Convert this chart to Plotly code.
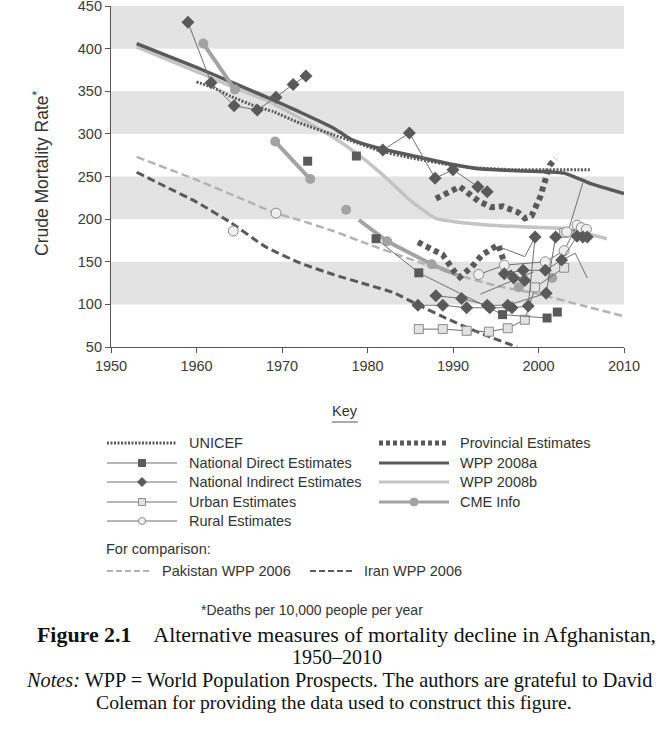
import plotly.graph_objects as go

# ---------------- data ----------------
unicef_years = [1960, 1962, 1964, 1967, 1969, 1972, 1976, 1978, 1981.5, 1985, 1990, 1993, 1997, 2006]
unicef_vals = [361, 354, 344, 332, 326, 313, 299, 292, 280, 272, 263, 260, 258, 258]

wpp2008a_years = [1953, 1960, 1964, 1968, 1972, 1976, 1978, 1981, 1985, 1990, 1993, 1997, 2003, 2006, 2010]
wpp2008a_vals = [406, 378, 361, 344, 326, 307, 294, 284, 275, 264, 259, 257, 254, 242, 230]

wpp2008b_years = [1953, 1961, 1964, 1968, 1972, 1976, 1979, 1982, 1985, 1988, 1992, 1998, 2003, 2008]
wpp2008b_vals = [402, 369, 356, 340, 319, 296, 275, 250, 222, 201, 195, 191, 189, 177]

pakistan_years = [1953, 1960, 1965, 1969, 1972, 1976, 1980, 1985, 1990, 1995, 2000, 2005, 2010]
pakistan_vals = [273, 246, 225, 208, 199, 186, 171, 153, 136, 122, 112, 99, 86]

iran_years = [1953, 1956, 1960, 1964, 1968, 1972, 1976, 1980, 1983, 1986, 1990, 1994, 1997.5]
iran_vals = [255, 240, 220, 196, 168, 149, 135, 123, 114, 99, 80, 63, 50]

cme_years = [1960.8, 1964.5, None, 1969.2, 1973.3, None, 1979, 1982.3, 1987.5, 1990.8]
cme_vals = [406, 352, None, 291, 247, None, 199, 174, 147, 133]
cme_point_years = [1960.8, 1964.5, 1969.2, 1973.3, 1977.5, 1982.3, 1987.5, 1997.7, 2001.6]
cme_point_vals = [406, 352, 291, 247, 211, 174, 147, 120, 131]

provincial_years = [1988, 1990.8, 1993, 1994.5, 1995.8, 1997.6, 1998.4, 1999.2, 2000.2, 2001.3, 2002, None,
                    1985.9, 1987.3, 1988.8, 1990.2, 1990.8, 1992.2, 1993.4, 1995.3, 1996, 1997]
provincial_vals = [224, 238, 221, 214, 215, 208, 201, 204, 226, 263, 271, None,
                   173, 166, 158, 138, 132, 144, 158, 170, 149, 131]

direct_years = [1973, None, 1978.7, None, 1981, 1986, 1995.8, 2001, None, 2002.2]
direct_vals = [268, None, 274, None, 177, 137, 88, 84, None, 91]

indirect_years = [1959, 1961.7, 1964.4, 1967.1, 1969.3, 1971.3, 1972.8, None,
                  1981.8, 1984.9, 1987.9, 1990, 1992.9, 1994, None,
                  1985.9, 1988.8, 1991.6, 1994.3, 1996.9, 1998.8, 1999.6, None,
                  1988, 1991, 1994, 1996.4, 2000.9, 2002, None,
                  1996, 1998.2, 2000.8, 2002.7, 2004.5, None,
                  1997.1, 1998.4, None,
                  2005.2, 2005.7]
indirect_vals = [431, 360, 333, 328, 343, 358, 368, None,
                 281, 301, 248, 258, 238, 232, None,
                 99, 99, 96, 96, 96, 98, 179, None,
                 110, 107, 99, 99, 113, 179, None,
                 136, 140, 140, 152, 180, None,
                 131, 128, None,
                 179, 179]

urban_years = [1986, 1988.8, 1991.6, 1994.2, 1996.4, 1998.4, 1999.6, 2003, None, 2003]
urban_vals = [71, 71, 69, 68, 72, 82, 120, 143, None, 184]

rural_years = [1964.3, None, 1969.3, None, 1993, 1996, 2000.8, 2003, 2004.5, None, 2003.3, 2005, 2005.6]
rural_vals = [186, None, 207, None, 135, 146, 150, 163, 193, None, 185, 190, 188]

other_years = [2005.2, 2003.5, None, 2002.7, 2004.3, 2005.7, None, 1993.2, 1999.4, None, 1995.8, 1998.4, 1999.6]
other_vals = [243, 187, None, 152, 160, 131, None, 112, 138, None, 166, 156, 179]

x_ticks = [1950, 1960, 1970, 1980, 1990, 2000, 2010]
y_ticks = [50, 100, 150, 200, 250, 300, 350, 400, 450]
bands = [(100, 150), (200, 250), (300, 350), (400, 450)]

# ---------------- styles ----------------
W, H = 663, 729
DARK = '#5a5a5a'
LIGHT = '#c4c4c4'
CME = '#a3a3a3'
PAK = '#b3b3b3'
THIN = '#707070'
SANS = 'Liberation Sans, Arial, sans-serif'
SERIF = 'Liberation Serif, Times New Roman, serif'
TXT = '#333333'


def X(px):
    return px / W


def Y(py):
    return 1 - py / H


fig = go.Figure()


def add(xs, ys, **kw):
    fig.add_trace(go.Scatter(x=xs, y=ys, hoverinfo='skip', connectgaps=False, **kw))


add(pakistan_years, pakistan_vals, mode='lines', line=dict(color=PAK, width=2.5, dash='8px,4px', shape='spline', smoothing=0.5))
add(iran_years, iran_vals, mode='lines', line=dict(color=DARK, width=3, dash='8px,4px', shape='spline', smoothing=0.5))
add(wpp2008b_years, wpp2008b_vals, mode='lines', line=dict(color=LIGHT, width=3.5, shape='spline', smoothing=0.5))
add(wpp2008a_years, wpp2008a_vals, mode='lines', line=dict(color=DARK, width=3.5, shape='spline', smoothing=0.5))
add(unicef_years, unicef_vals, mode='lines', line=dict(color=DARK, width=3, dash='2px,1.5px', shape='spline', smoothing=0.5))
add(cme_years, cme_vals, mode='lines', line=dict(color=CME, width=4))
add(cme_point_years, cme_point_vals, mode='markers', marker=dict(symbol='circle', size=10, color=CME))
add(provincial_years, provincial_vals, mode='lines', line=dict(color=DARK, width=6, dash='5px,4px'))
add(other_years, other_vals, mode='lines', line=dict(color=THIN, width=1))
add(urban_years, urban_vals, mode='lines+markers', line=dict(color=THIN, width=1),
    marker=dict(symbol='square', size=9, color='#e2e2e2', line=dict(color='#8a8a8a', width=1)))
add(rural_years, rural_vals, mode='lines+markers', line=dict(color=THIN, width=1),
    marker=dict(symbol='circle', size=10, color='#efefef', line=dict(color='#8a8a8a', width=1)))
add(direct_years, direct_vals, mode='lines+markers', line=dict(color=THIN, width=1),
    marker=dict(symbol='square', size=9, color=DARK))
add(indirect_years, indirect_vals, mode='lines+markers', line=dict(color=THIN, width=1),
    marker=dict(symbol='diamond', size=10, color=DARK))

# ---------------- legend key (paper-coordinate shapes) ----------------
shapes = [dict(type='rect', xref='x', yref='y', x0=1950, x1=2010, y0=a, y1=b, layer='below',
               fillcolor='#e3e3e3', line=dict(width=0)) for a, b in bands]


def hline(x0, x1, y, color, width, dash='solid'):
    shapes.append(dict(type='line', xref='paper', yref='paper', x0=X(x0), x1=X(x1), y0=Y(y), y1=Y(y),
                       line=dict(color=color, width=width, dash=dash)))


def square(cx, cy, s, fill, edge):
    shapes.append(dict(type='rect', xref='paper', yref='paper', x0=X(cx - s / 2), x1=X(cx + s / 2),
                       y0=Y(cy + s / 2), y1=Y(cy - s / 2), fillcolor=fill, line=dict(color=edge, width=1)))


def circle(cx, cy, s, fill, edge):
    shapes.append(dict(type='circle', xref='paper', yref='paper', x0=X(cx - s / 2), x1=X(cx + s / 2),
                       y0=Y(cy + s / 2), y1=Y(cy - s / 2), fillcolor=fill, line=dict(color=edge, width=1)))


def diamond(cx, cy, s, fill):
    r = s / 2
    path = 'M {:.5f},{:.5f} L {:.5f},{:.5f} L {:.5f},{:.5f} L {:.5f},{:.5f} Z'.format(
        X(cx - r), Y(cy), X(cx), Y(cy - r), X(cx + r), Y(cy), X(cx), Y(cy + r))
    shapes.append(dict(type='path', xref='paper', yref='paper', path=path, fillcolor=fill,
                       line=dict(color=fill, width=1)))


L0, L1, R0, R1 = 107, 177, 379, 449
rows = [443, 463, 482, 502, 521]
hline(L0, L1, rows[0], DARK, 3, '2px,1.5px')
hline(L0, L1, rows[1], THIN, 1)
square(142, rows[1], 7, DARK, DARK)
hline(L0, L1, rows[2], THIN, 1)
diamond(142, rows[2], 9, DARK)
hline(L0, L1, rows[3], THIN, 1)
square(142, rows[3], 7, '#e2e2e2', '#8a8a8a')
hline(L0, L1, rows[4], THIN, 1)
circle(142, rows[4], 7, '#efefef', '#8a8a8a')
hline(R0, R1, rows[0], DARK, 5, '4px,3px')
hline(R0, R1, rows[1], DARK, 3)
hline(R0, R1, rows[2], LIGHT, 3)
hline(R0, R1, rows[3], CME, 3)
circle(414, rows[3], 8, CME, CME)
hline(107, 152, 571, PAK, 2, '6px,3px')
hline(310, 353, 571, DARK, 2, '6px,3px')
hline(332, 358, 422, '#555555', 1)

annotations = []


def txt(x, y, s, size=14.5, anchor='left', family=SANS, color=TXT, angle=0):
    annotations.append(dict(x=X(x), y=Y(y), xref='paper', yref='paper', text=s, showarrow=False,
                            xanchor=anchor, yanchor='middle', textangle=angle, borderpad=0,
                            font=dict(family=family, size=size, color=color)))


txt(345, 411, 'Key', anchor='center')
left_labels = ['UNICEF', 'National Direct Estimates', 'National Indirect Estimates', 'Urban Estimates', 'Rural Estimates']
right_labels = ['Provincial Estimates', 'WPP 2008a', 'WPP 2008b', 'CME Info']
for r, s in zip(rows, left_labels):
    txt(188, r, s)
for r, s in zip(rows, right_labels):
    txt(459, r, s)
txt(105, 549, 'For comparison:')
txt(161, 571, 'Pakistan WPP 2006')
txt(363, 571, 'Iran WPP 2006')
txt(312, 610, '*Deaths per 10,000 people per year', size=14, anchor='center')
txt(41, 174, 'Crude Mortality Rate<sup>*</sup>', size=17.5, anchor='center', angle=-90)

NB = '\u00a0'
txt(346, 634, '<b>Figure 2.1</b>' + NB * 4 + 'Alternative measures of mortality decline in Afghanistan,',
    size=21.9, anchor='center', family=SERIF, color='#111111')
txt(337, 657, '1950\u20132010', size=20, anchor='center', family=SERIF, color='#111111')
txt(339, 680, '<i>Notes:</i> WPP = World Population Prospects. The authors are grateful to David',
    size=20.3, anchor='center', family=SERIF, color='#111111')
txt(334, 702, 'Coleman for providing the data used to construct this figure.',
    size=19.7, anchor='center', family=SERIF, color='#111111')

tickfont = dict(family=SANS, size=14.5, color='#3a3a3a')
fig.update_layout(
    width=W, height=H, margin=dict(l=0, r=0, t=0, b=0, autoexpand=False),
    plot_bgcolor='rgba(0,0,0,0)', paper_bgcolor='white', showlegend=False,
    xaxis=dict(domain=[111 / W, 624 / W], range=[1950, 2010], tickvals=x_ticks, ticks='outside',
               ticklen=5, tickcolor='#555555', showline=True, linecolor='#555555', linewidth=1.2,
               showgrid=False, zeroline=False, tickfont=tickfont, automargin=False, fixedrange=True,
               ticklabeloverflow='allow'),
    yaxis=dict(domain=[382 / H, 723 / H], range=[50, 450], tickvals=y_ticks, ticks='outside',
               ticklen=5, tickcolor='#555555', showline=True, linecolor='#555555', linewidth=1.2,
               showgrid=False, zeroline=False, tickfont=tickfont, automargin=False, fixedrange=True,
               ticklabeloverflow='allow'),
    annotations=annotations, shapes=shapes,
)

fig.write_html("out.html", config={'displayModeBar': False},
               post_script="document.body.style.margin='0';document.body.style.padding='0';")
